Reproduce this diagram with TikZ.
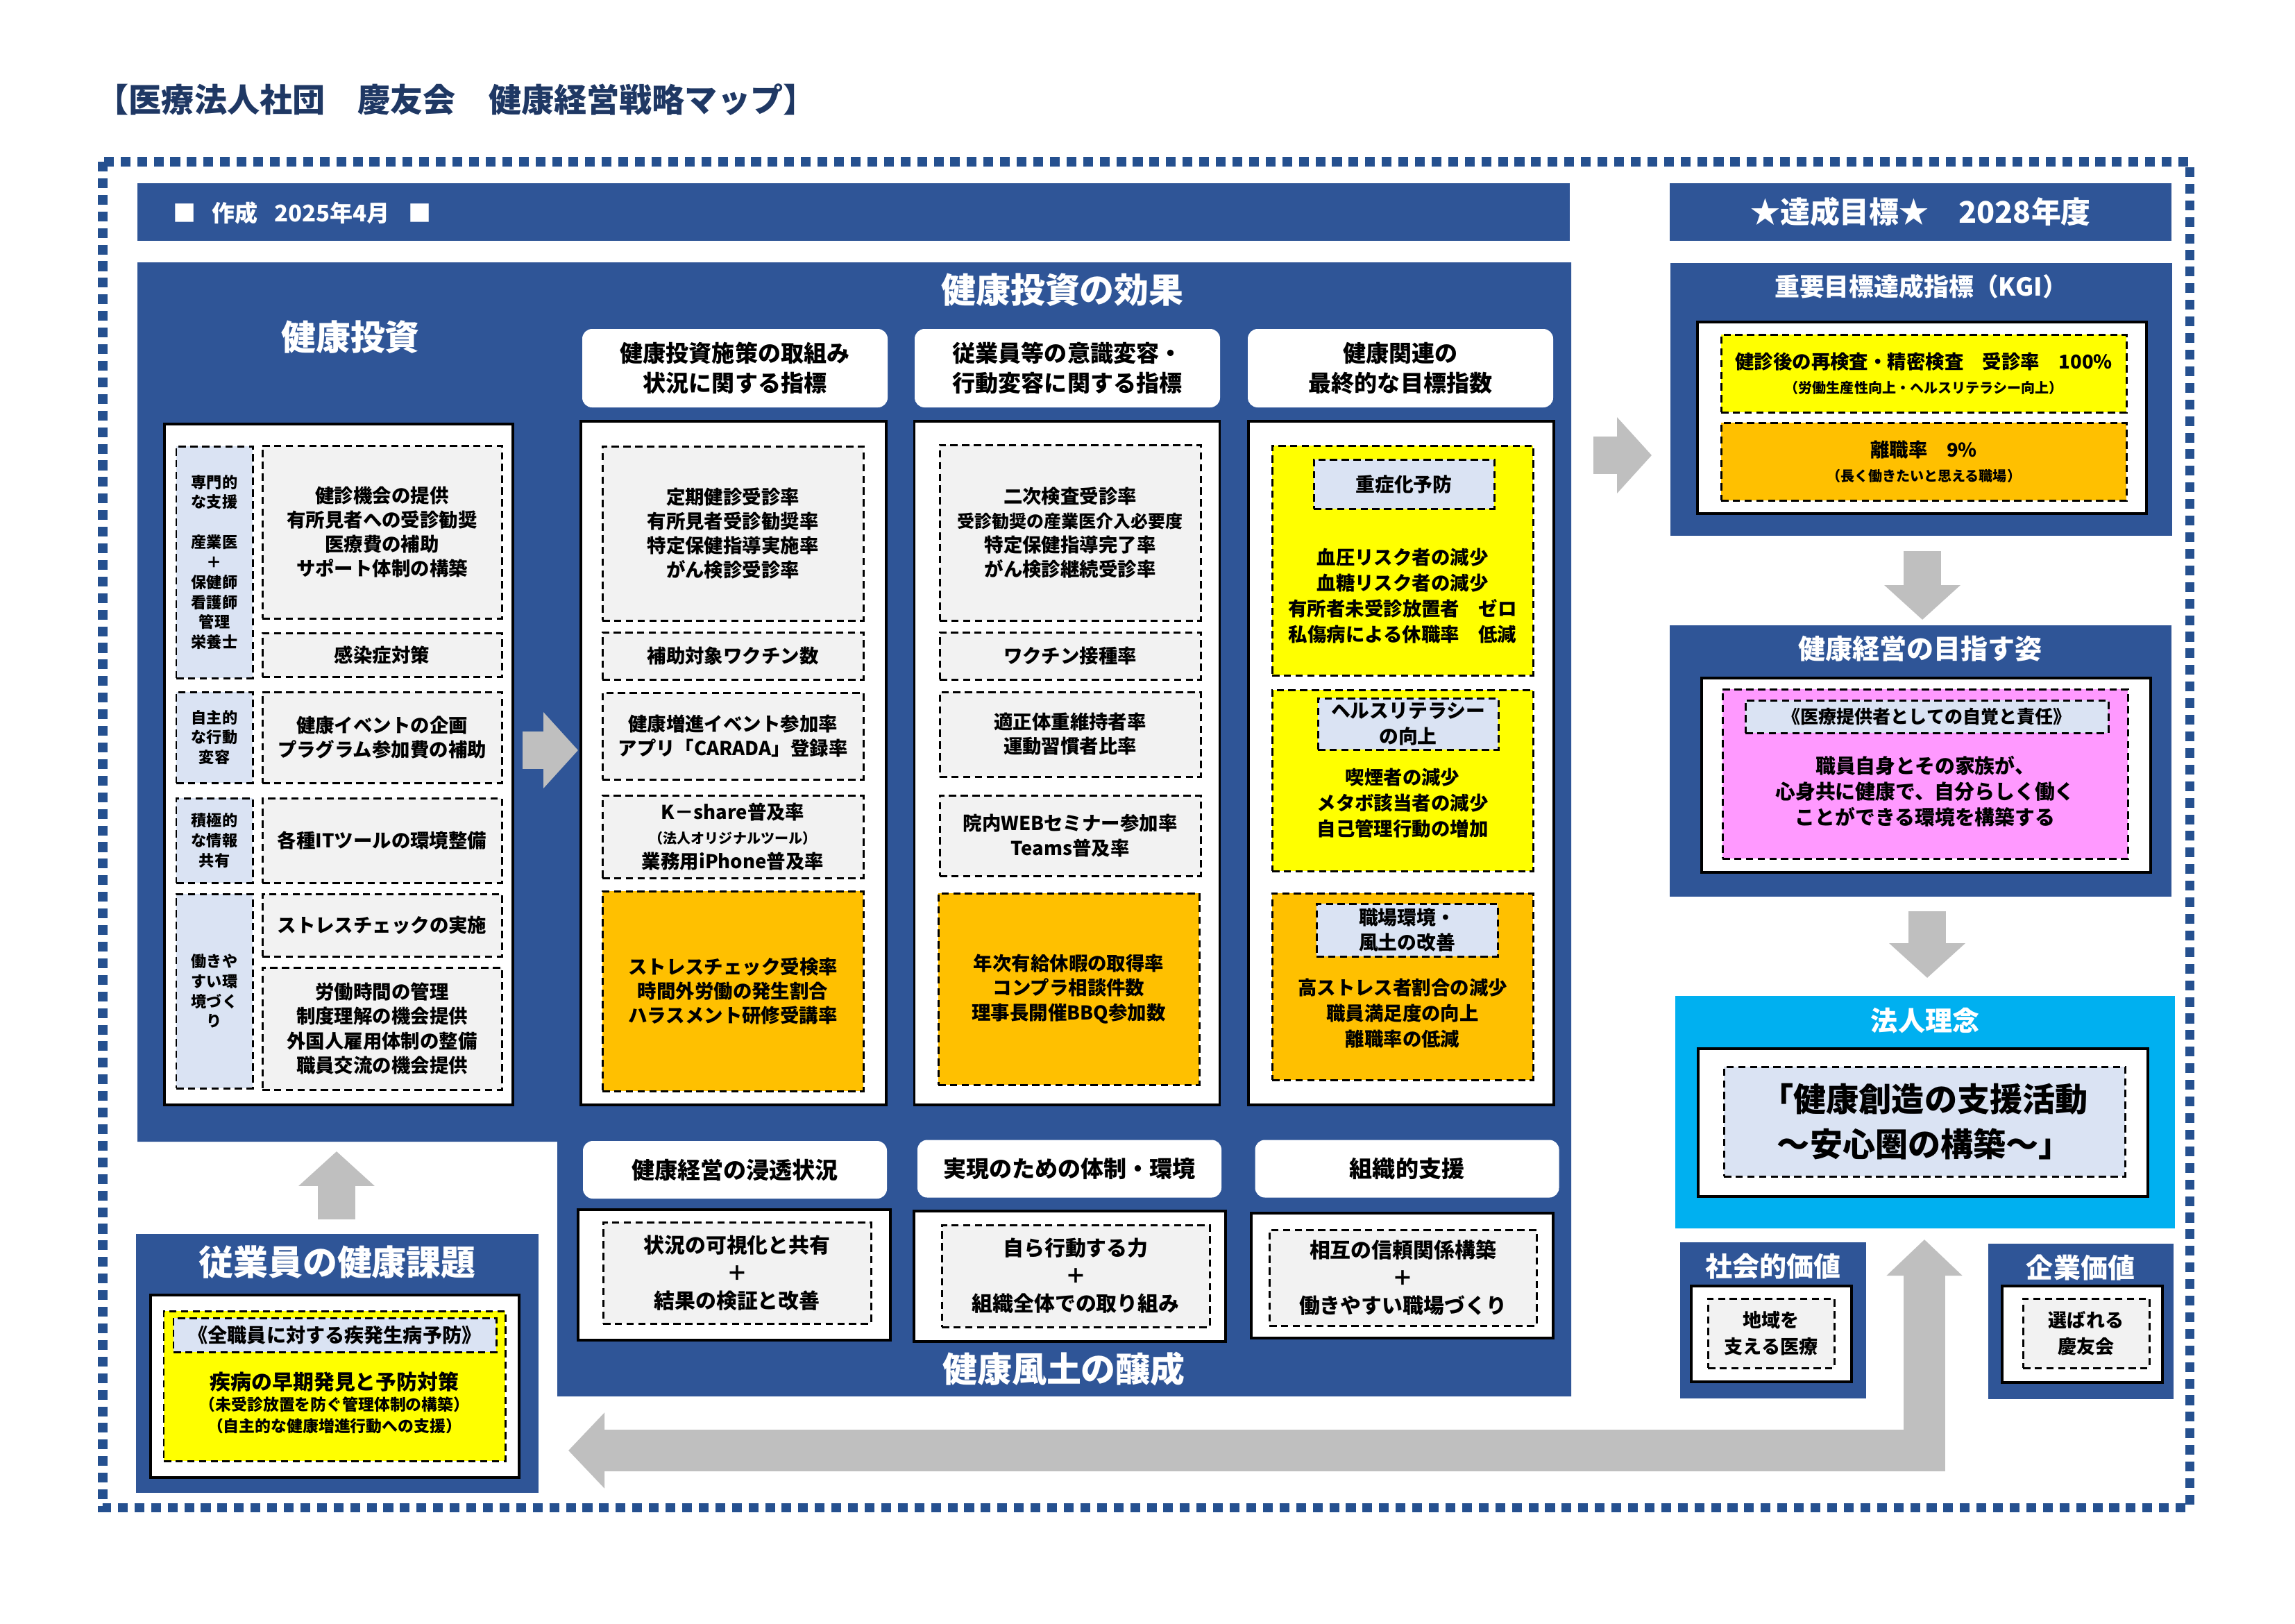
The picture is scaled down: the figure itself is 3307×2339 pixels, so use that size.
\documentclass[tikz,border=0pt]{standalone}
\usepackage{fontspec}
\setmainfont{Noto Sans CJK JP}[BoldFont={Noto Sans CJK JP Black}]
\usepackage{xcolor}
\definecolor{navy}{HTML}{2F5597}
\definecolor{dotblue}{HTML}{25508F}
\definecolor{titlenavy}{HTML}{1F3864}
\definecolor{lightblue}{HTML}{DAE3F3}
\definecolor{lightgray}{HTML}{F2F2F2}
\definecolor{kyellow}{HTML}{FFFF00}
\definecolor{korange}{HTML}{FFC000}
\definecolor{kpink}{HTML}{FF99FF}
\definecolor{kcyan}{HTML}{00B0F0}
\definecolor{arrowgray}{HTML}{BFBFBF}
\usepackage{tikz}
\usetikzlibrary{arrows.meta,calc}
\newcommand\bfs[2]{\bfseries\fontsize{#1}{#2}\selectfont}
\newcommand\fsz[2]{\fontsize{#1}{#2}\selectfont}
\tikzset{
  wh/.style 2 args={minimum width={#1*0.01cm}, minimum height={#2*0.01cm}},
  bluepanel/.style ={ rectangle, fill=navy, inner sep=0pt },
  cyanpanel/.style ={ rectangle, fill=kcyan, inner sep=0pt },
  bluebar/.style   ={ rectangle, fill=navy, inner sep=0pt },
  paneltitle/.style={ text=white, font=\bfs{14.2pt}{17pt}, inner sep=0pt },
  maptitle/.style  ={ text=titlenavy, font=\bfs{13.4pt}{16pt}, inner sep=0pt },
  whitebox/.style  ={ rectangle, draw=black, line width=1pt, fill=white, inner sep=0pt },
  colhead/.style   ={ rectangle, fill=white, rounded corners=4pt, inner sep=0pt, align=center,
                      font=\bfs{9.4pt}{12.2pt} },
  dbox/.style      ={ rectangle, draw=black, line width=0.85pt, dash pattern=on 3pt off 1.8pt,
                      inner sep=0pt, align=center, font=\bfs{7.8pt}{10pt} },
  graybox/.style   ={ dbox, fill=lightgray },
  sidebox/.style   ={ dbox, fill=lightblue, font=\bfs{6.3pt}{8.2pt} },
  yellowbox/.style ={ dbox, fill=kyellow },
  orangebox/.style ={ dbox, fill=korange },
  pinkbox/.style   ={ dbox, fill=kpink },
  tagbox/.style    ={ dbox, fill=lightblue, font=\bfs{7.9pt}{10.5pt} },
  bodytext/.style  ={ align=center, inner sep=0pt, font=\bfs{7.8pt}{10.5pt} },
%
  dotframe/.style  ={ draw=dotblue, line width=3.7pt, dash pattern=on 4pt off 2.8pt },
  grayarrow/.style ={ draw=arrowgray, line width=15.4pt,
                      -{Triangle[width=30.4pt 0 0,length=14.2pt 0 0]} },
  bentarrow/.style ={ draw=arrowgray, line width=17pt, line join=miter,
                      {Triangle[width=30.2pt 0 0,length=14.8pt 0 0]}-{Triangle[width=30.2pt 0 0,length=14.8pt 0 0]} }
}

\begin{document}
\begin{tikzpicture}[x=0.01cm,y=-0.01cm,inner sep=0pt]
        \fill[white] (0,0) rectangle (3307,2339);
        \useasboundingbox (0,0) rectangle (3307,2339);
        \node[maptitle,anchor=west] (head) at (138,144) {【医療法人社団　慶友会　健康経営戦略マップ】};
        \draw[dotframe] (148,233) rectangle (3155,2172);
        \node[bluebar,wh={2064}{83}] (datebar) at (1230,305.5) {};
        \node[anchor=west,text=white,font=\bfs{9.4pt}{11pt}] (date) at (249,307) {■\hspace{0.7em}作成\hspace{0.7em}2025年4月\hspace{0.8em}■};
        \fill[navy] (198,378) -- (2264,378) -- (2264,2012) -- (803,2012) -- (803,1645) -- (198,1645) -- cycle;
        \node[paneltitle] (invtitle) at (505,486) {健康投資};
        \node[paneltitle] (efftitle) at (1531,418) {健康投資の効果};
        \node[whitebox,wh={502}{981}] (invbox) at (488,1101.5) {};
        \node[sidebox,wh={110}{334}] (s1) at (309,810) {専門的\\な支援\\[8.2pt]産業医\\＋\\保健師\\看護師\\管理\\栄養士};
        \node[graybox,wh={345}{249}] (b1) at (550.5,766.5) {健診機会の提供\\有所見者への受診勧奨\\医療費の補助\\サポート体制の構築};
        \node[graybox,wh={345}{63}] (b2) at (550.5,943.5) {感染症対策};
        \node[sidebox,wh={110}{131}] (s2) at (309,1062.5) {自主的\\な行動\\変容};
        \node[graybox,wh={345}{131}] (b3) at (550.5,1062.5) {健康イベントの企画\\プラグラム参加費の補助};
        \node[sidebox,wh={110}{122}] (s3) at (309,1211) {積極的\\な情報\\共有};
        \node[graybox,wh={345}{122}] (b4) at (550.5,1211) {各種ITツールの環境整備};
        \node[sidebox,wh={110}{280}] (s4) at (309,1428) {働きや\\すい環\\境づく\\り};
        \node[graybox,wh={345}{90}] (b5) at (550.5,1333) {ストレスチェックの実施};
        \node[graybox,wh={345}{176}] (b6) at (550.5,1482) {労働時間の管理\\制度理解の機会提供\\外国人雇用体制の整備\\職員交流の機会提供};
        \coordinate (r1S) at (753,1081);
        \coordinate (r1E) at (833,1081);
        \draw[grayarrow] (r1S) -- (r1E);
%
        \node[colhead,wh={440}{113}] (h1) at (1059,530.5) {健康投資施策の取組み\\状況に関する指標};
        \node[colhead,wh={440}{113}] (h2) at (1538,530.5) {従業員等の意識変容・\\行動変容に関する指標};
        \node[colhead,wh={440}{113}] (h3) at (2018,530.5) {健康関連の\\最終的な目標指数};
        \node[whitebox,wh={440}{985}] (col1) at (1057,1099.5) {};
        \node[whitebox,wh={440}{985}] (col2) at (1537.5,1099.5) {};
        \node[whitebox,wh={440}{985}] (col3) at (2019,1099.5) {};
        \node[graybox,wh={376}{251}] (c1a) at (1056,768.5) {定期健診受診率\\有所見者受診勧奨率\\特定保健指導実施率\\がん検診受診率};
        \node[graybox,wh={376}{68}] (c1b) at (1056,945) {補助対象ワクチン数};
        \node[graybox,wh={376}{125}] (c1c) at (1056,1060.5) {健康増進イベント参加率\\アプリ「CARADA」登録率};
        \node[graybox,wh={376}{119}] (c1d) at (1056,1205.5) {K－share普及率\\{\fsz{5.7pt}{9pt}（法人オリジナルツール）}\\業務用iPhone普及率};
        \node[orangebox,wh={376}{288}] (c1e) at (1056,1428) {ストレスチェック受検率\\時間外労働の発生割合\\ハラスメント研修受講率};
        \node[graybox,wh={376}{253}] (c2a) at (1542,767.5) {二次検査受診率\\{\fsz{7.1pt}{10pt}受診勧奨の産業医介入必要度}\\特定保健指導完了率\\がん検診継続受診率};
        \node[graybox,wh={376}{68}] (c2b) at (1542,945) {ワクチン接種率};
        \node[graybox,wh={376}{122}] (c2c) at (1542,1058) {適正体重維持者率\\運動習慣者比率};
        \node[graybox,wh={376}{116}] (c2d) at (1542,1204) {院内WEBセミナー参加率\\Teams普及率};
        \node[orangebox,wh={376}{276}] (c2e) at (1540,1425) {年次有給休暇の取得率\\コンプラ相談件数\\理事長開催BBQ参加数};
        \node[yellowbox,wh={376}{331}] (d1) at (2021,807.5) {};
        \node[tagbox,wh={260}{71}] (d1tag) at (2023,697.5) {重症化予防};
        \node[bodytext] (d1txt) at (2021,859) {血圧リスク者の減少\\血糖リスク者の減少\\有所者未受診放置者　ゼロ\\私傷病による休職率　低減};
        \node[yellowbox,wh={376}{261}] (d2) at (2021,1124.5) {};
        \node[tagbox,wh={260}{74}] (d2tag) at (2029,1043) {ヘルスリテラシー\\の向上};
        \node[bodytext] (d2txt) at (2021,1157) {喫煙者の減少\\メタボ該当者の減少\\自己管理行動の増加};
        \node[orangebox,wh={376}{269}] (d3) at (2021,1421.5) {};
        \node[tagbox,wh={261}{76}] (d3tag) at (2027.5,1340) {職場環境・\\風土の改善};
        \node[bodytext] (d3txt) at (2021,1460) {高ストレス者割合の減少\\職員満足度の向上\\離職率の低減};
%
        \node[colhead,wh={438}{83}] (e1) at (1059,1685.5) {健康経営の浸透状況};
        \node[colhead,wh={438}{83}] (e2) at (1541,1684) {実現のための体制・環境};
        \node[colhead,wh={438}{83}] (e3) at (2027.5,1684) {組織的支援};
        \node[whitebox,wh={450}{188}] (f1) at (1058,1837) {};
        \node[whitebox,wh={449}{188}] (f2) at (1541.5,1839) {};
        \node[whitebox,wh={435}{180}] (f3) at (2020.5,1838) {};
        \node[graybox,wh={386}{146},font=\bfs{8.5pt}{11.4pt}] (g1) at (1062,1834) {状況の可視化と共有\\＋\\結果の検証と改善};
        \node[graybox,wh={386}{147},font=\bfs{8.5pt}{11.4pt}] (g2) at (1550,1838.5) {自ら行動する力\\＋\\組織全体での取り組み};
        \node[graybox,wh={385}{138},font=\bfs{8.5pt}{11.4pt}] (g3) at (2021.5,1841) {相互の信頼関係構築\\＋\\働きやすい職場づくり};
        \node[paneltitle] (culttitle) at (1533,1972) {健康風土の醸成};
%
        \coordinate (upS) at (485,1757);
        \coordinate (upE) at (485,1659);
        \draw[grayarrow] (upS) -- (upE);
        \node[bluepanel,wh={580}{373}] (kadai) at (486,1964.5) {};
        \node[paneltitle] (kadaititle) at (486,1819) {従業員の健康課題};
        \node[whitebox,wh={531}{263}] (kadaibox) at (482.5,1997.5) {};
        \node[yellowbox,wh={492}{216}] (kadaiy) at (482,1997) {};
        \node[tagbox,wh={465}{49},font=\bfs{8pt}{10pt}] (kadaitag) at (482.5,1923.5) {《全職員に対する疾発生病予防》};
        \node[bodytext,font=\bfs{6.5pt}{8.6pt}] (kadaitxt) at (482,2021) {{\fsz{8.5pt}{10.8pt}疾病の早期発見と予防対策}\\（未受診放置を防ぐ管理体制の構築）\\（自主的な健康増進行動への支援）};
%
        \node[bluebar,wh={723}{83},text=white,font=\bfs{12.2pt}{14pt}] (goalbar) at (2767.5,305.5) {★達成目標★　2028年度};
        \node[bluepanel,wh={723}{393}] (kgi) at (2768.5,575.5) {};
        \node[paneltitle,font=\bfs{10.2pt}{12pt}] (kgititle) at (2768,413) {重要目標達成指標（KGI）};
        \node[whitebox,wh={647}{276}] (kgibox) at (2769.5,602) {};
        \node[yellowbox,wh={584}{112}] (kgi1) at (2772,538) {健診後の再検査・精密検査　受診率　100\%\\{\fsz{5.7pt}{8pt}（労働生産性向上・ヘルスリテラシー向上）}};
        \node[orangebox,wh={584}{112}] (kgi2) at (2772,665) {離職率　9\%\\{\fsz{5.7pt}{8pt}（長く働きたいと思える職場）}};
        \coordinate (r2S) at (2296,656);
        \coordinate (r2E) at (2380,656);
        \draw[grayarrow] (r2S) -- (r2E);
        \coordinate (dn1S) at (2770,794);
        \coordinate (dn1E) at (2770,893);
        \draw[grayarrow] (dn1S) -- (dn1E);
        \node[bluepanel,wh={723}{391}] (vision) at (2767.5,1096.5) {};
        \node[paneltitle,font=\bfs{11.1pt}{13pt}] (visiontitle) at (2767,935) {健康経営の目指す姿};
        \node[whitebox,wh={647}{280}] (visionbox) at (2775.5,1117) {};
        \node[pinkbox,wh={584}{244}] (visionp) at (2774,1115) {};
        \node[tagbox,wh={523}{47},font=\bfs{7.4pt}{9pt}] (visiontag) at (2776.5,1032.5) {《医療提供者としての自覚と責任》};
        \node[bodytext,font=\bfs{8.2pt}{10.5pt}] (visiontxt) at (2774,1140) {職員自身とその家族が、\\心身共に健康で、自分らしく働く\\ことができる環境を構築する};
        \coordinate (dn2S) at (2777,1313);
        \coordinate (dn2E) at (2777,1409);
        \draw[grayarrow] (dn2S) -- (dn2E);
        \node[cyanpanel,wh={720}{335}] (rinen) at (2774,1602.5) {};
        \node[paneltitle,font=\bfs{11.1pt}{13pt}] (rinentitle) at (2774,1471) {法人理念};
        \node[whitebox,wh={648}{213}] (rinenbox) at (2771,1617.5) {};
        \node[tagbox,wh={578}{158},font=\bfs{13.4pt}{18.5pt}] (rinentxt) at (2773,1616) {「健康創造の支援活動\\～安心圏の構築～」};
        \node[bluepanel,wh={268}{225}] (social) at (2555,1902.5) {};
        \node[paneltitle,font=\bfs{11.1pt}{13pt}] (socialtitle) at (2555,1825) {社会的価値};
        \node[whitebox,wh={231}{138}] (socialbox) at (2552.5,1922) {};
        \node[graybox,wh={182}{100},font=\bfs{7.7pt}{10.8pt}] (socialtxt) at (2552,1921) {地域を\\支える医療};
        \node[bluepanel,wh={267}{224}] (corp) at (2998.5,1904) {};
        \node[paneltitle,font=\bfs{11.1pt}{13pt}] (corptitle) at (2998,1827) {企業価値};
        \node[whitebox,wh={231}{139}] (corpbox) at (3000.5,1922.5) {};
        \node[graybox,wh={182}{100},font=\bfs{7.7pt}{10.8pt}] (corptxt) at (3006,1921) {選ばれる\\慶友会};
        \coordinate (loopA) at (2773,1786);
        \coordinate (loopB) at (819,2090);
        \draw[bentarrow] (loopA) |- (loopB);
      \end{tikzpicture}
\end{document}
